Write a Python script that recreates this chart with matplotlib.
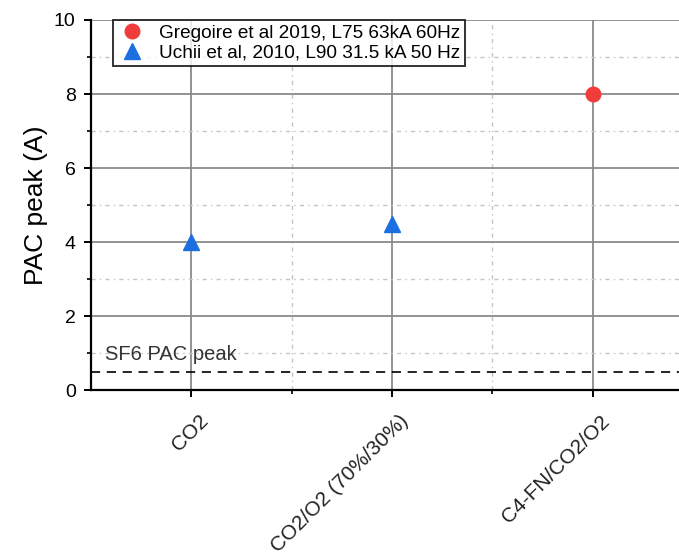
import matplotlib
matplotlib.use("Agg")
import matplotlib.pyplot as plt
from matplotlib.transforms import ScaledTranslation
from matplotlib.ticker import MultipleLocator, FixedLocator

plt.rcParams['font.family'] = ['Liberation Sans', 'DejaVu Sans']

# данные
categories = ["CO2", "CO2/O2 (70%/30%)", "C4-FN/CO2/O2"]
gregoire_x = [3]
gregoire_y = [8.0]
uchii_x = [1, 2]
uchii_y = [4.0, 4.5]
sf6_peak = 0.5

fig = plt.figure(figsize=(6.79, 5.55), dpi=100)
ax = fig.add_axes([0.134, 0.297, 0.866, 0.667])

ax.plot(gregoire_x, gregoire_y, 'o', color='#f03c3c', markersize=10.5,
        label="Gregoire et al 2019, L75 63kA 60Hz", zorder=5)
ax.plot(uchii_x, uchii_y, '^', color='#1c6fe0', markersize=11.5,
        label="Uchii et al, 2010, L90 31.5 kA 50 Hz", zorder=5)

ax.axhline(sf6_peak, color='black', linestyle=(0, (5.5, 4)), linewidth=1.2, zorder=4)
ax.text(0.57, 0.97, "SF6 PAC peak", fontsize=14.5, color='#333333', va='center')

ax.set_xlim(0.5, 3.43)
ax.set_ylim(0, 10)
ax.xaxis.set_major_locator(FixedLocator([1, 2, 3]))
ax.xaxis.set_minor_locator(FixedLocator([1.5, 2.5]))
ax.yaxis.set_major_locator(MultipleLocator(2))
ax.yaxis.set_minor_locator(MultipleLocator(1))

# сетка
ax.grid(which='major', color='#8a8a8a', linewidth=1.3, linestyle='-')
ax.grid(which='minor', color='#c4c4c4', linewidth=1.0, linestyle=(0, (3, 3, 1, 3)))
ax.set_axisbelow(True)

for s in ['top', 'right']:
    ax.spines[s].set_visible(False)
for s in ['left', 'bottom']:
    ax.spines[s].set_linewidth(1.6)

ax.tick_params(which='major', direction='out', length=5, width=1.4, labelsize=14, pad=6)
ax.tick_params(which='minor', direction='out', length=3, width=1.2)

ax.set_xticks([1, 2, 3])
ax.set_xticklabels(categories, rotation=45, ha='right', va='top',
                   rotation_mode='anchor', fontsize=15, color='#222222')
offset = ScaledTranslation(0.07, -0.06, fig.dpi_scale_trans)
for lab in ax.get_xticklabels():
    lab.set_transform(lab.get_transform() + offset)

ax.set_ylabel("PAC peak (A)", fontsize=19, labelpad=4)

leg = ax.legend(loc='upper left', bbox_to_anchor=(0.037, 1.0), fontsize=13.7,
                frameon=True, fancybox=False, edgecolor='black',
                handletextpad=0.7, borderpad=0.25, labelspacing=0.12,
                handlelength=1.5, borderaxespad=0)
leg.get_frame().set_linewidth(1.4)

fig.savefig("out.png", dpi=100)
